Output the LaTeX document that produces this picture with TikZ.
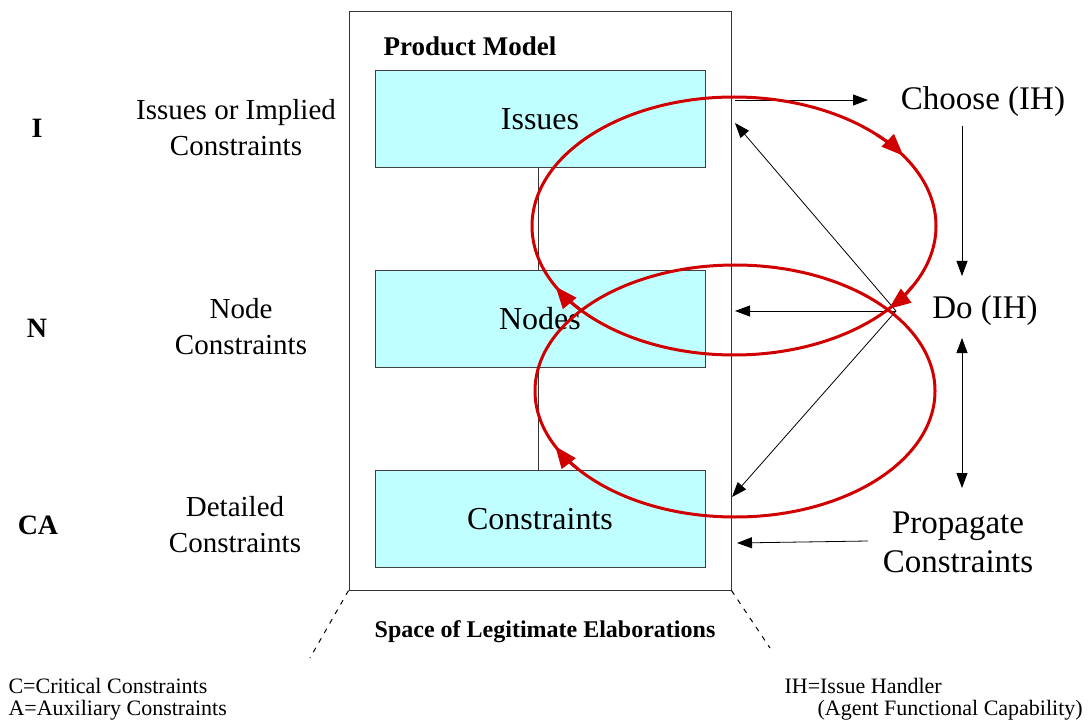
\documentclass[tikz,border=0pt]{standalone}
\usepackage{fontspec}
\setmainfont{Liberation Serif}
\usetikzlibrary{arrows.meta}
\definecolor{boxfill}{RGB}{192,255,255}
\definecolor{loopred}{RGB}{208,0,0}
\begin{document}
\begin{tikzpicture}[x=1pt,y=-1pt,
    layer/.style={draw=black!75,fill=boxfill,minimum width=330pt,minimum height=97pt,
      inner sep=0pt,font=\fontsize{32}{38}\selectfont},
    sidelabel/.style={align=center,font=\fontsize{29}{36}\selectfont},
    levelmark/.style={font=\bfseries\fontsize{28}{32}\selectfont},
    handler/.style={align=center,font=\fontsize{33}{39}\selectfont},
    note/.style={anchor=west,font=\fontsize{22}{26}\selectfont},
    flow/.style={-{Triangle[length=15pt,width=11pt]},line width=0.8pt},
    loop/.style={draw=loopred,line width=3pt},
    looptip/.style={loop,-{Triangle[length=22pt,width=17pt]}}]
  \useasboundingbox (0,0) rectangle (1090,722);

  % Product model frame and its layers
  \node[draw=black!80,line width=1pt,minimum width=382pt,minimum height=578pt,inner sep=0pt]
    (pm) at (540,301) {};
  \node[font=\bfseries\fontsize{27}{31}\selectfont] (pmtitle) at (470,46) {Product Model};
  \node[layer] (issues) at (540,119) {Issues};
  \node[layer] (nodes) at (540,319) {Nodes};
  \node[layer] (cons) at (540,519) {Constraints};
  \draw[black!80,line width=1pt] ([xshift=-2pt]issues.south) -- ([xshift=-2pt]nodes.north);
  \draw[black!80,line width=1pt] ([xshift=-2pt]nodes.south) -- ([xshift=-2pt]cons.north);

  % Levels on the left
  \node[levelmark] (lvI) at (37,128) {I};
  \node[levelmark] (lvN) at (37,328) {N};
  \node[levelmark] (lvCA) at (38,525) {CA};
  \node[sidelabel] (lbI) at (236,128) {Issues or Implied\\Constraints};
  \node[sidelabel] (lbN) at (241,327) {Node\\Constraints};
  \node[sidelabel] (lbCA) at (235,525) {Detailed\\Constraints};

  % Issue handlers on the right
  \node[handler] (choose) at (983,102) {Choose (IH)};
  \node[handler] (do) at (985,311) {Do (IH)};
  \node[handler] (prop) at (958,542) {Propagate\\Constraints};
  \coordinate (hub) at (896,311);
  \coordinate (outI) at (735,100);
  \coordinate (toC) at (868,100);

  \draw[flow] (outI) -- (toC);
  \draw[flow] (962,126) -- (962,276);
  \draw[flow,{Triangle[length=15pt,width=11pt]}-{Triangle[length=15pt,width=11pt]}] (962,338) -- (962,488);
  \draw[flow] (hub) -- (735,311);
  \draw[flow] (hub) -- (735,123);
  \draw[flow] (hub) -- (732,497);
  \draw[flow] (868,541) -- (737,543);

  % Red cycles
  \draw[loop] (734,226) ellipse[x radius=202,y radius=129];
  \draw[loop] (735,391) ellipse[x radius=200,y radius=126];
  \foreach \t in {-33,40,152} {
    \draw[looptip] (734,226) ++(\t-12:202 and 129)
      arc[start angle=\t-12,end angle=\t,x radius=202,y radius=129];
  }
  \draw[looptip] (735,391) ++(142:200 and 126)
    arc[start angle=142,end angle=154,x radius=200,y radius=126];

  % Space of legitimate elaborations
  \draw[dashed,line width=1pt,dash pattern=on 5pt off 6pt] (pm.south west) -- (310,658);
  \draw[dashed,line width=1pt,dash pattern=on 5pt off 6pt] (pm.south east) -- (770,648);
  \node[font=\bfseries\fontsize{24}{28}\selectfont] (space) at (545,632) {Space of Legitimate Elaborations};

  % Notes
  \node[note] (noteC) at (5,686) {C=Critical Constraints};
  \node[note] (noteA) at (5,710) {A=Auxiliary Constraints};
  \node[note] (noteIH) at (781,686) {IH=Issue Handler};
  \node[note] (noteAg) at (814,710) {(Agent Functional Capability)};
\end{tikzpicture}
\end{document}
